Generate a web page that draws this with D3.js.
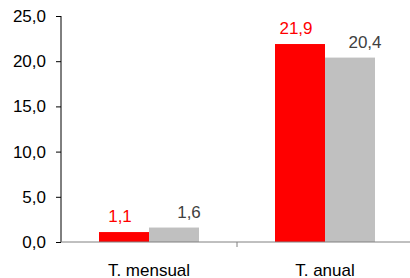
<!DOCTYPE html>
<html>
<head>
<meta charset="utf-8">
<script src="https://cdn.jsdelivr.net/npm/d3@7"></script>
<style>
  body { margin: 0; background: #fff; }
  text { font-family: "Liberation Sans", Arial, sans-serif; }
</style>
</head>
<body>
<script>
// chart data
const categories = ['T. mensual', 'T. anual'];
const series = ['a', 'b'];
const valuesA = [1.1, 21.9];
const valuesB = [1.6, 20.4];
const yTicks = [0, 5, 10, 15, 20, 25];

const colors = { a: '#ff0000', b: '#c0c0c0' };
const labelColors = { a: '#ff0000', b: '#404040' };
const labelDx = { a: -4, b: 15 };

const width = 410;
const height = 278;
const margin = { top: 16, right: -3, bottom: 36, left: 61 };

const fmt = v => d3.format('.1f')(v).replace('.', ',');

const svg = d3.select('body').append('svg')
    .attr('width', width)
    .attr('height', height);

const x = d3.scaleBand()
  .domain(categories)
  .range([margin.left, width - margin.right])
  .paddingInner(0)
  .paddingOuter(0);

const xs = d3.scaleBand()
  .domain(series)
  .range([0, 100]);

const y = d3.scaleLinear()
  .domain([0, 25])
  .range([height - margin.bottom, margin.top]);

const data = categories.map((c, i) => ({ cat: c, a: valuesA[i], b: valuesB[i] }));

// bars
const groups = svg.selectAll('.grp')
  .data(data)
  .enter().append('g')
    .attr('class', 'grp')
    .attr('transform', d => `translate(${x(d.cat) + x.bandwidth() / 2 - 50},0)`);

groups.selectAll('rect')
  .data(d => series.map(s => ({ s, v: d[s] })))
  .enter().append('rect')
    .attr('x', d => xs(d.s))
    .attr('width', xs.bandwidth())
    .attr('y', d => y(d.v))
    .attr('height', d => y(0) - y(d.v))
    .attr('fill', d => colors[d.s]);

groups.selectAll('.lbl')
  .data(d => series.map(s => ({ s, v: d[s] })))
  .enter().append('text')
    .attr('class', 'lbl')
    .attr('x', d => xs(d.s) + xs.bandwidth() / 2 + labelDx[d.s])
    .attr('y', d => y(d.v) - 10)
    .attr('text-anchor', 'middle')
    .attr('font-size', 17)
    .attr('fill', d => labelColors[d.s])
    .text(d => fmt(d.v));

// y axis
const yAxis = d3.axisLeft(y)
  .tickValues(yTicks)
  .tickSize(5)
  .tickPadding(10)
  .tickFormat(fmt);

const gy = svg.append('g')
  .attr('transform', `translate(${margin.left},0)`)
  .call(yAxis);
gy.select('.domain').attr('d', `M0,${y(25)}V${y(0)}`).attr('stroke', '#000');
gy.selectAll('.tick line').attr('stroke', '#000');
gy.selectAll('.tick text').attr('font-size', 17).attr('fill', '#000').attr('font-family', '"Liberation Sans", Arial, sans-serif');

// x axis
const gx = svg.append('g')
  .attr('transform', `translate(0,${y(0)})`);
gx.append('line')
  .attr('x1', margin.left).attr('x2', width)
  .attr('stroke', '#808080');
gx.append('line')
  .attr('x1', x(categories[1])).attr('x2', x(categories[1]))
  .attr('y1', 0).attr('y2', 5)
  .attr('stroke', '#808080');
gx.selectAll('.cat')
  .data(categories)
  .enter().append('text')
    .attr('class', 'cat')
    .attr('x', d => x(d) + x.bandwidth() / 2)
    .attr('y', 34)
    .attr('text-anchor', 'middle')
    .attr('font-size', 17)
    .attr('fill', '#000')
    .text(d => d);
</script>
</body>
</html>
